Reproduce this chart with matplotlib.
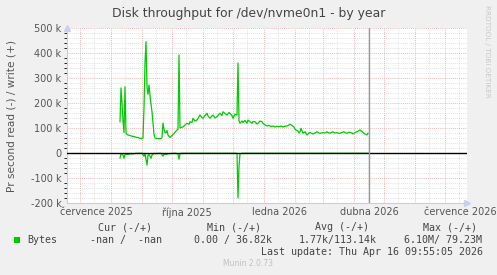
import matplotlib
matplotlib.use("Agg")
import matplotlib.pyplot as plt
import matplotlib.dates as mdates
import pandas as pd
import numpy as np

# ---------------- data ----------------
write_dates = [
    "2025-08-10", "2025-08-11", "2025-08-12", "2025-08-13", "2025-08-14", "2025-08-15", "2025-08-16",
    "2025-08-17", "2025-08-18", "2025-08-20", "2025-08-22", "2025-08-24", "2025-08-26", "2025-08-28",
    "2025-08-30", "2025-08-31",
    "2025-09-01", "2025-09-02", "2025-09-03", "2025-09-04", "2025-09-05", "2025-09-06", "2025-09-07",
    "2025-09-08", "2025-09-09", "2025-09-10", "2025-09-11", "2025-09-12", "2025-09-13", "2025-09-14",
    "2025-09-16", "2025-09-18", "2025-09-20", "2025-09-21", "2025-09-22", "2025-09-23", "2025-09-24",
    "2025-09-25", "2025-09-26", "2025-09-27", "2025-09-29",
    "2025-10-01", "2025-10-03", "2025-10-05", "2025-10-06", "2025-10-07", "2025-10-08", "2025-10-09",
    "2025-10-10", "2025-10-12", "2025-10-14", "2025-10-16", "2025-10-18", "2025-10-19", "2025-10-21",
    "2025-10-22", "2025-10-24", "2025-10-26", "2025-10-28", "2025-10-29", "2025-10-31",
    "2025-11-01", "2025-11-03", "2025-11-05", "2025-11-06", "2025-11-08", "2025-11-10", "2025-11-11",
    "2025-11-13", "2025-11-15", "2025-11-17", "2025-11-18", "2025-11-20", "2025-11-21", "2025-11-23",
    "2025-11-25", "2025-11-27", "2025-11-28", "2025-11-30",
    "2025-12-01", "2025-12-03", "2025-12-05", "2025-12-06", "2025-12-07", "2025-12-08", "2025-12-10",
    "2025-12-11", "2025-12-13", "2025-12-15", "2025-12-16", "2025-12-18", "2025-12-20", "2025-12-21",
    "2025-12-23", "2025-12-25", "2025-12-26", "2025-12-28", "2025-12-30", "2025-12-31",
    "2026-01-02", "2026-01-04", "2026-01-06", "2026-01-08", "2026-01-10", "2026-01-12", "2026-01-14",
    "2026-01-16", "2026-01-18", "2026-01-20", "2026-01-22", "2026-01-24", "2026-01-26", "2026-01-27",
    "2026-01-29", "2026-01-31",
    "2026-02-01", "2026-02-02", "2026-02-04", "2026-02-05", "2026-02-06", "2026-02-07", "2026-02-09",
    "2026-02-11", "2026-02-13", "2026-02-15", "2026-02-16", "2026-02-18", "2026-02-19", "2026-02-21",
    "2026-02-23", "2026-02-25", "2026-02-26", "2026-02-28",
    "2026-03-01", "2026-03-03", "2026-03-05", "2026-03-07", "2026-03-08", "2026-03-10", "2026-03-11",
    "2026-03-13", "2026-03-15", "2026-03-17", "2026-03-18", "2026-03-20", "2026-03-22", "2026-03-23",
    "2026-03-25", "2026-03-27", "2026-03-28", "2026-03-30", "2026-03-31",
    "2026-04-02", "2026-04-04", "2026-04-06", "2026-04-07", "2026-04-09", "2026-04-10", "2026-04-12",
    "2026-04-14", "2026-04-15",
]
write_k = [
    125, 260, 200, 130, 82, 265, 80,
    74, 72, 70, 67, 66, 63, 62,
    58, 60,
    57, 60, 180, 360, 445, 265, 235,
    272, 230, 195, 165, 120, 75, 60,
    58, 57, 58, 62, 120, 95, 82,
    80, 90, 72, 62,
    70, 78, 88, 92, 95, 392, 100,
    102, 104, 112, 119, 115, 125, 122,
    139, 128, 132, 145, 152, 142,
    139, 150, 159, 148, 139, 148, 152,
    140, 145, 155, 159, 150, 165, 158,
    152, 162, 159, 150,
    139, 155, 152, 360, 130, 119, 128,
    122, 130, 119, 132, 125, 119, 126,
    125, 116, 119, 128, 125, 119,
    112, 108, 110, 106, 108, 104, 107,
    105, 108, 104, 107, 108, 112, 115,
    110, 104,
    96, 92, 88, 80, 85, 99, 79,
    85, 72, 80, 82, 78, 76, 80,
    85, 80, 79, 80,
    82, 80, 85, 80, 79, 83, 85,
    80, 82, 78, 79, 82, 85, 82,
    79, 83, 82, 80, 76,
    82, 85, 90, 92, 86, 82, 76,
    72, 79,
]

read_dates = [
    "2025-08-10", "2025-08-11", "2025-08-12", "2025-08-13", "2025-08-14", "2025-08-15", "2025-08-16",
    "2025-08-18", "2025-08-20", "2025-08-22", "2025-08-25", "2025-08-28", "2025-09-01", "2025-09-03",
    "2025-09-04", "2025-09-06", "2025-09-07", "2025-09-08", "2025-09-10", "2025-09-11", "2025-09-13",
    "2025-09-16", "2025-09-20", "2025-09-22", "2025-09-23", "2025-09-25", "2025-09-27", "2025-09-30",
    "2025-10-04", "2025-10-07", "2025-10-08", "2025-10-09", "2025-10-12", "2025-11-01", "2025-12-01",
    "2025-12-05", "2025-12-06", "2025-12-07", "2025-12-08", "2025-12-10", "2026-01-15", "2026-02-15",
    "2026-03-15", "2026-04-15",
]
read_k = [
    20, 5, 3, 8, 21, 6, 4,
    6, 3, 4, 2, 1, 1, 13,
    3, 48, 10, 5, 21, 8, 2,
    2, 1, 13, 4, 6, 3, 2,
    1, 3, 25, 2, 1, 1, 1,
    1, 180, 55, 3, 1, 1, 1,
    1, 1,
]

y_ticks = [-200, -100, 0, 100, 200, 300, 400, 500]
y_tick_labels = ["-200 k", "-100 k", "0", "100 k", "200 k", "300 k", "400 k", "500 k"]
x_label_dates = ["2025-07-17", "2025-10-16", "2026-01-16", "2026-04-16", "2026-07-16"]
x_tick_labels = ["července 2025", "října 2025", "ledna 2026", "dubna 2026", "července 2026"]
x_start, x_end = "2025-06-18", "2026-07-23"
now_time = "2026-04-16 09:55:05"

legend_cols = ["Cur (-/+)", "Min (-/+)", "Avg (-/+)", "Max (-/+)"]
legend_vals = ["-nan /  -nan", "0.00 / 36.82k", "1.77k/113.14k", "6.10M/ 79.23M"]

# ---------------- figure ----------------
W, H = 497, 275
fig = plt.figure(figsize=(W / 100, H / 100), dpi=100, facecolor="#F0F0F0")
ax = fig.add_axes([67 / W, 72 / H, 400 / W, 175 / H])
ax.set_facecolor("white")

green = "#00CC00"
wd = pd.to_datetime(write_dates)
rd = pd.to_datetime(read_dates)
ax.plot(wd, np.array(write_k) * 1000, color=green, lw=0.9, zorder=4)
ax.plot(rd, -np.array(read_k) * 1000, color=green, lw=0.9, zorder=4)

ax.set_xlim(pd.Timestamp(x_start), pd.Timestamp(x_end))
ax.set_ylim(-200000, 500000)

# horizontal grid
ax.set_yticks([v * 1000 for v in y_ticks])
ax.set_yticklabels(y_tick_labels)
ax.set_yticks(np.arange(-200000, 500001, 20000), minor=True)
ax.yaxis.grid(True, which="minor", color="#D8D8D8", lw=0.6, linestyle=(0, (1, 1.5)), zorder=1)
ax.yaxis.grid(True, which="major", color="#EBA0A0", lw=0.6, linestyle=(0, (1, 1.5)), zorder=2)

# vertical grid
for d in pd.date_range(x_start, x_end, freq="MS"):
    ax.axvline(d, color="#EBA0A0", lw=0.6, linestyle=(0, (1, 1.5)), zorder=2)
for d in pd.date_range(x_start, x_end, freq="SMS").to_list():
    if d.day != 1:
        ax.axvline(d, color="#D8D8D8", lw=0.6, linestyle=(0, (1, 1.5)), zorder=1)

ax.set_xticks(pd.to_datetime(x_label_dates))
ax.set_xticklabels(x_tick_labels)
ax.tick_params(axis="both", length=0, labelsize=7, labelcolor="#555555", pad=3)
ax.tick_params(axis="y", pad=4)

ax.axhline(0, color="black", lw=1.0, zorder=5)
ax.axvline(pd.Timestamp(now_time), color="#999999", lw=1.0, zorder=5)

for s in ["top", "right"]:
    ax.spines[s].set_visible(False)
for s in ["left", "bottom"]:
    ax.spines[s].set_color("#C8CCE8")
    ax.spines[s].set_linewidth(0.8)
ax.plot([0], [1.0], marker="^", color="#C8D0F0", markersize=4, transform=ax.transAxes, clip_on=False, zorder=6)
ax.plot([1.0], [0], marker=">", color="#C8D0F0", markersize=4, transform=ax.transAxes, clip_on=False, zorder=6)

# texts
fig.text(249 / W, 1 - 14 / H, "Disk throughput for /dev/nvme0n1 - by year", ha="center", va="center",
         fontsize=8.9, color="#444444")
fig.text(12 / W, 1 - 116 / H, "Pr second read (-) / write (+)", ha="center", va="center",
         rotation=90, fontsize=7.6, color="#555555")
fig.text(487 / W, 1 - 5 / H, "RRDTOOL / TOBI OETIKER", ha="center", va="top", rotation=270,
         fontsize=5.2, color="#C8C8C8")

mono = "DejaVu Sans Mono"
fs = 7.2
col_x = [98, 207, 315, 423]
for x, t in zip(col_x, legend_cols):
    fig.text(x / W, 1 - 227 / H, t, ha="left", va="center", family=mono, fontsize=fs, color="#444444")
fig.patches.append(plt.Rectangle((14 / W, 1 - 243 / H), 6 / W, 6 / H, transform=fig.transFigure,
                                 facecolor=green, edgecolor="none"))
fig.text(27 / W, 1 - 240 / H, "Bytes", ha="left", va="center", family=mono, fontsize=fs, color="#444444")
val_x = [90, 194, 299, 404]
for x, t in zip(val_x, legend_vals):
    fig.text(x / W, 1 - 240 / H, t, ha="left", va="center", family=mono, fontsize=fs, color="#444444")
fig.text(483 / W, 1 - 252 / H, "Last update: Thu Apr 16 09:55:05 2026", ha="right", va="center",
         family=mono, fontsize=fs, color="#444444")
fig.text(248 / W, 1 - 263 / H, "Munin 2.0.73", ha="center", va="center", fontsize=5.5, color="#C0C0C0")

fig.savefig("out.png", dpi=100, facecolor=fig.get_facecolor())
